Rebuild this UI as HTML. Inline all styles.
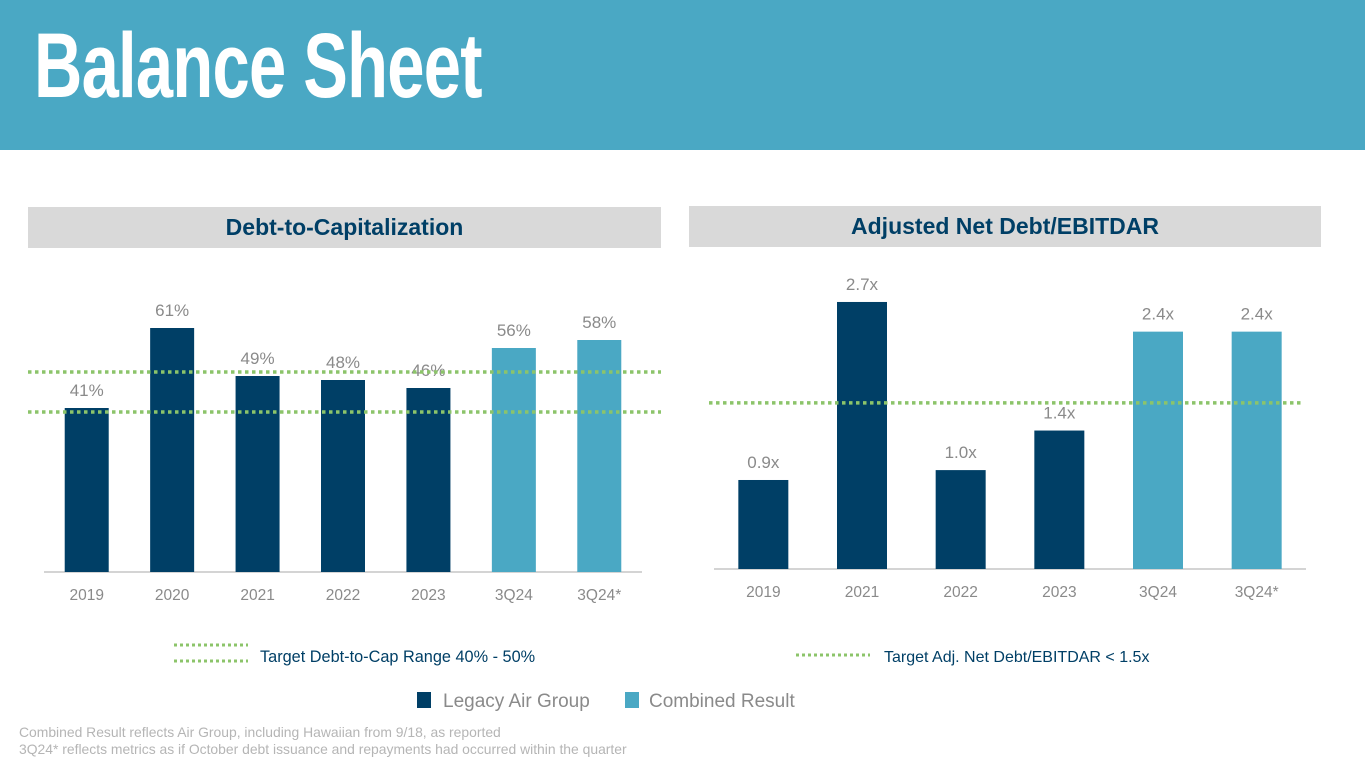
<!DOCTYPE html>
<html><head><meta charset="utf-8"><style>
body{margin:0;width:1365px;height:768px;background:#fff;font-family:"Liberation Sans",sans-serif;overflow:hidden;position:relative}
.hdr{position:absolute;left:0;top:0;width:1365px;height:150px;background:#4aa8c4}
.ttl{position:absolute;left:34px;top:14px;font-family:"Liberation Sans Narrow","Liberation Sans",sans-serif;font-weight:bold;font-size:92px;color:#fff;transform:scaleX(0.727);transform-origin:left top;letter-spacing:-1px;white-space:nowrap}
.box{position:absolute;background:#d9d9d9;color:#003f66;font-weight:bold;font-size:23px;text-align:center;line-height:41px;height:41px}
.note{position:absolute;left:19px;color:#b5b5b5;font-size:13.9px;line-height:17px}
</style></head><body>
<div class="hdr"><div class="ttl">Balance Sheet</div></div>
<div class="box" style="left:28px;top:207px;width:633px">Debt-to-Capitalization</div>
<div class="box" style="left:689px;top:206px;width:632px">Adjusted Net Debt/EBITDAR</div>
<svg id="chart" width="1365" height="768" style="position:absolute;left:0;top:0"></svg>
<div class="note" style="top:724px">Combined Result reflects Air Group, including Hawaiian from 9/18, as reported<br>3Q24* reflects metrics as if October debt issuance and repayments had occurred within the quarter</div>
<script>
const leftCats=["2019","2020","2021","2022","2023","3Q24","3Q24*"];
const leftVals=[41,61,49,48,46,56,58];
const leftLabels=["41%","61%","49%","48%","46%","56%","58%"];
const leftCombined=[false,false,false,false,false,true,true];
const leftTargets=[40,50];
const rightCats=["2019","2021","2022","2023","3Q24","3Q24*"];
const rightVals=[0.9,2.7,1.0,1.4,2.4,2.4];
const rightLabels=["0.9x","2.7x","1.0x","1.4x","2.4x","2.4x"];
const rightCombined=[false,false,false,false,true,true];
const rightTarget=[1.68];
const NS="http://www.w3.org/2000/svg";
const svg=document.getElementById('chart');
function mk(t,a,txt){const e=document.createElementNS(NS,t);for(const k in a)e.setAttribute(k,a[k]);if(txt!=null)e.textContent=txt;svg.appendChild(e);return e;}
const DARK="#003f66",LIGHT="#4aa8c4",GREEN="#8cc46a",GRAY="#8a8a8a";
function drawChart(o){
  const n=o.cats.length,step=(o.x1-o.x0)/n;
  const xc=i=>o.x0+step*(i+0.5);
  const y=v=>o.base-v*o.scale;
  const ax=mk('line',{x1:o.x0,x2:o.x1,y1:o.base,y2:o.base,stroke:"#bbb","stroke-width":1.2});
  
  
  o.vals.forEach((v,i)=>{
    const r=mk('rect',{x:xc(i)-o.bw/2,y:y(v),width:o.bw,height:o.base-y(v),fill:o.comb[i]?LIGHT:DARK});
    
    
    const l=mk('text',{x:xc(i),y:y(v)-12,"text-anchor":"middle","font-size":17,fill:GRAY},o.labels[i]);
    
    
    const c=mk('text',{x:xc(i),y:o.base+28,"text-anchor":"middle","font-size":15.5,fill:GRAY},o.cats[i]);
    
    
  });
  o.targets.forEach(t=>{
    const g=mk('line',{x1:o.lx0,x2:o.lx1,y1:y(t),y2:y(t),stroke:GREEN,"stroke-width":3.5,"stroke-dasharray":"3.5 3.5"});
    
    
  });
}
drawChart({name:"debt-to-cap",cats:leftCats,vals:leftVals,labels:leftLabels,comb:leftCombined,targets:leftTargets,x0:44,x1:642,base:572,scale:4,bw:44,lx0:28,lx1:661});
drawChart({name:"net-debt",cats:rightCats,vals:rightVals,labels:rightLabels,comb:rightCombined,targets:rightTarget,x0:714,x1:1306,base:569,scale:98.9,bw:50,lx0:709,lx1:1304});
function legLine(x1,x2,yy,nm){const e=mk('line',{x1:x1,x2:x2,y1:yy,y2:yy,stroke:GREEN,"stroke-width":3,"stroke-dasharray":"3 3"});

}
legLine(174,248,645,'legend-target-line-upper');
legLine(174,248,661,'legend-target-line-lower');
legLine(796,870,655,'legend-target-line-right');
let t1=mk('text',{x:260,y:662,"font-size":16.3,fill:DARK},"Target Debt-to-Cap Range 40% - 50%");


let t2=mk('text',{x:884,y:662,"font-size":16,fill:DARK},"Target Adj. Net Debt/EBITDAR < 1.5x");


let s1=mk('rect',{x:417,y:692,width:14,height:16,fill:DARK});


let l1=mk('text',{x:443,y:707,"font-size":19,fill:GRAY},"Legacy Air Group");


let s2=mk('rect',{x:625,y:692,width:14,height:16,fill:LIGHT});


let l2=mk('text',{x:649,y:707,"font-size":19,fill:GRAY},"Combined Result");


</script>
</body></html>
